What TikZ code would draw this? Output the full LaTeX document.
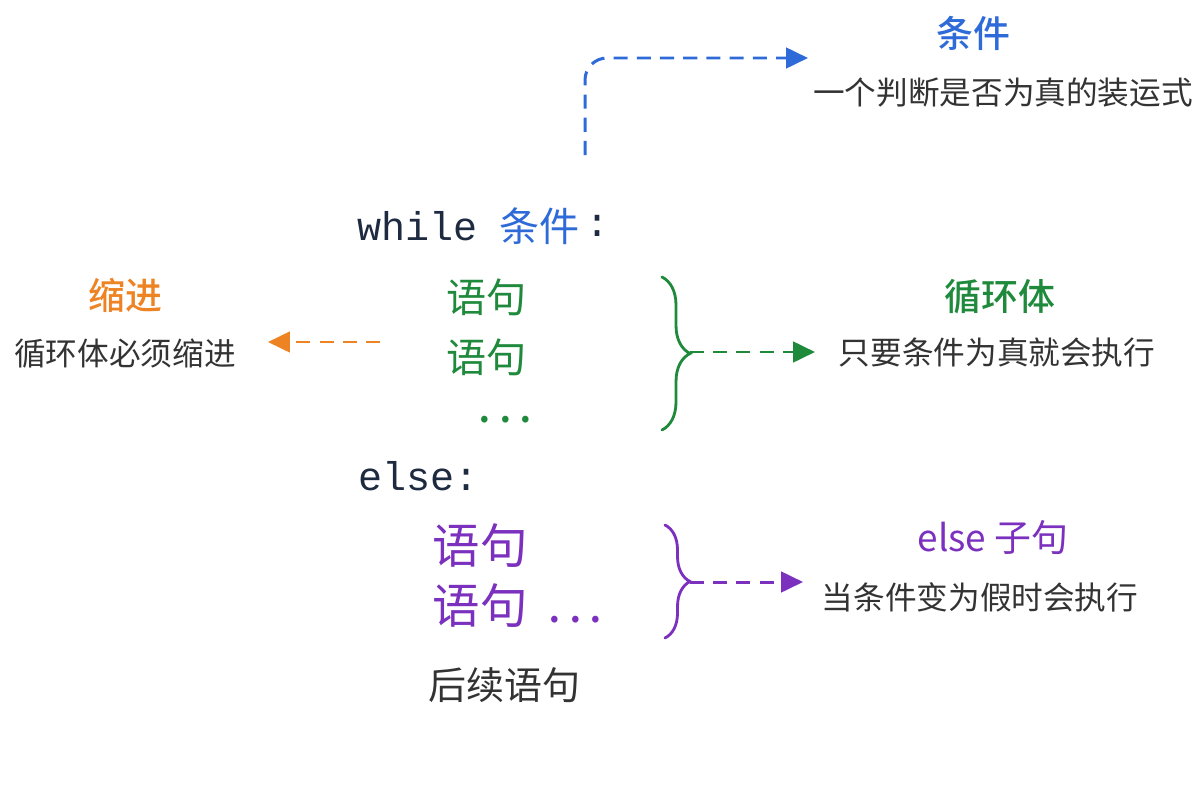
\documentclass[tikz,border=0pt]{standalone}
\usepackage{fontspec}
\setmainfont{Noto Sans CJK SC}
\setmonofont{Liberation Mono}
\newfontfamily\mediumcjk{Noto Sans CJK SC Medium}
\usetikzlibrary{positioning, arrows.meta, decorations.pathreplacing}
\definecolor{CondBlue}{HTML}{2F6BD8}
\definecolor{IndOrange}{HTML}{EE8323}
\definecolor{BodyGreen}{HTML}{1F8A3C}
\definecolor{ElsePurple}{HTML}{7B30BE}
\definecolor{CodeNavy}{HTML}{1E2A40}
\definecolor{DescGray}{HTML}{333333}
\newcommand{\titlesize}{\fontsize{10.5pt}{12pt}\selectfont\mediumcjk}
\newcommand{\descsize}{\fontsize{9pt}{11pt}\selectfont}
\newcommand{\codesize}{\fontsize{11.4pt}{13pt}\selectfont}
\newcommand{\dotrow}{.\hspace{2.2pt}.\hspace{2.2pt}.}

\begin{document}
\begin{tikzpicture}[x=0.01cm, y=-0.01cm,
    title/.style={font=\titlesize, inner sep=0pt},
    desc/.style={font=\descsize, text=DescGray, inner sep=0pt},
    code/.style={font=\codesize\ttfamily, text=CodeNavy, inner sep=0pt, anchor=west},
    stmt/.style={font=\codesize, inner sep=0pt, anchor=west},
    dotbox/.style={font=\fontsize{12pt}{13pt}\selectfont\mediumcjk, inner sep=0pt, anchor=west},
    hint/.style={dashed, dash pattern=on 4pt off 2.6pt, line width=0.85pt,
        -{Triangle[length=6.2pt, width=5.8pt]}},
    curly/.style={decorate, line width=0.8pt, line cap=round}]
    \useasboundingbox (0,0) rectangle (1200,800);

    % condition
    \node[title, text=CondBlue] (condtitle) at (973,33) {条件};
    \node[desc] (conddesc) at (1003,93) {一个判断是否为真的装运式};

    % while line
    \node[code] (whilekw) at (357,226) {while};
    \node[stmt, text=CondBlue, right=20 of whilekw.east, anchor=west] (condword) {条件};
    \node[code, right=5 of condword.east, anchor=west] (colon) {:};
    \coordinate (condsrc) at (585,155);
    \coordinate (condtip) at (808,58);
    \draw[hint, CondBlue, rounded corners=0.22cm] (condsrc) |- (condtip);

    % indentation
    \node[title, text=IndOrange] (indtitle) at (125,295) {缩进};
    \node[desc] (inddesc) at (125,354) {循环体必须缩进};
    \coordinate (indsrc) at (380,342);
    \coordinate (indtip) at (268,342);
    \draw[hint, IndOrange] (indsrc) -- (indtip);

    % loop body
    \node[stmt, text=BodyGreen] (stmtA) at (446,297) {语句};
    \node[stmt, text=BodyGreen] (stmtB) at (446,357) {语句};
    \node[dotbox, text=BodyGreen] (stmtdots) at (478,420) {\dotrow};
    \draw[curly, BodyGreen, decoration={brace, amplitude=0.28cm}] (662,277) -- (662,430);
    \node[title, text=BodyGreen] (bodytitle) at (1000,297) {循环体};
    \node[desc] (bodydesc) at (997,352) {只要条件为真就会执行};
    \coordinate (bodysrc) at (690,352);
    \coordinate (bodytip) at (815,352);
    \draw[hint, BodyGreen] (bodysrc) -- (bodytip);

    % else clause
    \node[code] (elsekw) at (358,476) {else:};
    \node[stmt, font=\fontsize{13.5pt}{15pt}\selectfont, text=ElsePurple] (elseA) at (432,546) {语句};
    \node[stmt, font=\fontsize{13.5pt}{15pt}\selectfont, text=ElsePurple] (elseB) at (432,606) {语句};
    \node[dotbox, text=ElsePurple] (elsedots) at (548,620) {\dotrow};
    \draw[curly, ElsePurple, decoration={brace, amplitude=0.25cm}] (665,525) -- (665,638);
    \node[title, font=\fontsize{10.5pt}{12pt}\selectfont, text=ElsePurple] (elsetitle) at (993,538) {else 子句};
    \node[desc] (elsedesc) at (980,597) {当条件变为假时会执行};
    \coordinate (elsesrc) at (690,582);
    \coordinate (elsetip) at (803,582);
    \draw[hint, ElsePurple] (elsesrc) -- (elsetip);

    % after the loop
    \node[stmt, font=\fontsize{10.8pt}{12pt}\selectfont, text=DescGray] (afterstmt) at (428,685) {后续语句};
\end{tikzpicture}
\end{document}
